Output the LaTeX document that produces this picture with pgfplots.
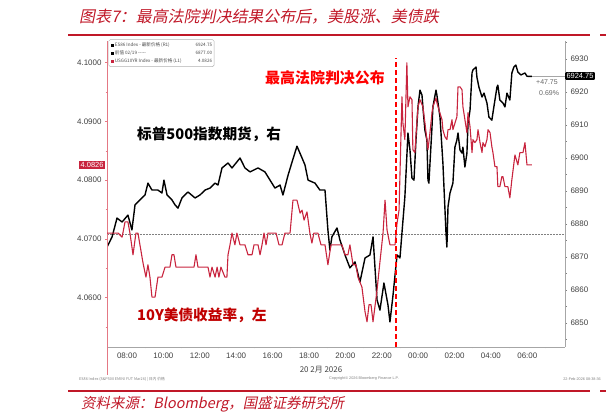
\documentclass[border=0pt]{standalone}
\usepackage{pgfplots}
\pgfplotsset{compat=1.18}
\usepackage{fontspec}
\setmainfont{Liberation Sans}
\newfontfamily\cjk{Noto Sans CJK SC}
\newfontfamily\cjkit{Noto Sans CJK SC}[FakeSlant=0.2]

\definecolor{titlered}{RGB}{192,24,40}
\definecolor{yieldred}{RGB}{200,36,62}
\definecolor{axisred}{RGB}{228,120,132}
\definecolor{labgray}{RGB}{64,64,64}
\definecolor{notered}{RGB}{255,0,0}
\definecolor{darkred}{RGB}{192,0,0}

\begin{document}
\begin{tikzpicture}
\useasboundingbox (0,0) rectangle (606bp,415bp);

% S&P 500 futures, right axis
\begin{axis}[
  at={(107bp,68bp)}, anchor=south west,
  scale only axis, width=458bp, height=306bp,
  xmin=6.9, xmax=32.07,
  ymin=6842.7, ymax=6935.5,
  axis y line*=right, axis x line=none,
  y axis line style={color=gray!70, line width=0.6bp, -},
  ytick={6850,6860,...,6930},
  minor ytick={6845,6855,...,6935},
  tick align=outside,
  major tick length=2bp, minor tick length=1.5bp,
  ytick style={color=gray, line width=0.6bp},
  yticklabel style={font=\fontsize{8}{8}\selectfont, text=labgray,
    /pgf/number format/.cd, fixed, 1000 sep={}},
  /pgf/number format/assume math mode=true,
]
\addplot[gray, line width=0.5bp, densely dotted] coordinates {(6.9,6877) (32.07,6877)};
\addplot[gray!70, line width=0.5bp] coordinates {(30.25,6924.75) (32.07,6924.75)};
\addplot[black, line width=1.4bp, line join=round] coordinates {
(6.90,6873.0)(7.18,6876.1)(7.45,6881.8)(7.73,6880.6)(8.05,6882.7)(8.27,6878.2)
(8.44,6885.8)(8.71,6887.3)(8.99,6888.8)(9.15,6892.4)(9.37,6890.3)(9.70,6890.3)
(9.92,6889.4)(10.03,6893.3)(10.20,6888.8)(10.47,6887.3)(10.64,6885.8)(10.80,6884.8)
(11.02,6887.9)(11.35,6889.7)(11.74,6887.9)(12.01,6888.8)(12.29,6890.3)(12.56,6890.9)
(12.84,6892.4)(13.00,6891.8)(13.22,6897.0)(13.55,6898.5)(13.77,6897.0)(14.21,6900.0)
(14.48,6897.0)(14.76,6895.8)(15.20,6897.0)(15.58,6895.8)(15.86,6893.3)(16.13,6890.9)
(16.41,6891.8)(16.57,6888.8)(16.85,6894.8)(17.07,6898.8)(17.34,6903.6)(17.62,6900.0)
(17.78,6897.9)(17.95,6893.3)(18.33,6892.4)(18.60,6890.3)(18.88,6890.3)(19.04,6878.2)
(19.15,6872.1)(19.26,6876.1)(19.54,6878.8)(19.70,6875.2)(19.98,6870.6)(20.25,6866.7)
(20.53,6868.5)(20.80,6862.4)(21.08,6869.7)(21.35,6870.6)(21.52,6876.1)(21.74,6857.0)
(21.90,6853.9)(22.12,6862.1)(22.34,6855.5)(22.45,6850.3)(22.62,6858.5)(22.84,6870.6)
(23.00,6869.7)(23.11,6877.3)(23.27,6888.2)(23.44,6907.6)(23.55,6902.4)(23.66,6893.9)
(23.77,6893.3)(23.88,6905.5)(23.99,6915.5)(24.10,6920.6)(24.21,6919.1)(24.26,6915.5)
(24.37,6908.5)(24.48,6905.5)(24.54,6893.3)(24.59,6892.4)(24.76,6909.4)(24.81,6915.5)
(24.98,6920.6)(25.03,6919.1)(25.20,6912.4)(25.36,6898.5)(25.53,6877.3)(25.58,6873.0)
(25.64,6885.2)(25.75,6889.4)(25.91,6892.4)(26.02,6903.3)(26.13,6905.5)(26.19,6907.6)
(26.30,6902.4)(26.41,6901.5)(26.46,6903.3)(26.57,6897.3)(26.68,6901.5)(26.74,6910.6)
(26.85,6914.5)(26.96,6925.8)(27.01,6926.7)(27.18,6927.6)(27.23,6924.5)(27.34,6921.5)
(27.51,6918.5)(27.62,6919.7)(27.78,6916.7)(27.89,6912.4)(28.05,6911.5)(28.16,6915.5)
(28.33,6921.5)(28.38,6922.1)(28.49,6917.6)(28.66,6916.7)(28.77,6915.5)(28.88,6919.7)
(29.04,6917.6)(29.15,6925.8)(29.26,6927.6)(29.37,6928.2)(29.48,6926.1)(29.65,6925.2)
(29.87,6925.8)(29.98,6924.8)(30.25,6924.75)
};
\end{axis}

% 10Y treasury yield, left axis
\begin{axis}[
  at={(107bp,68bp)}, anchor=south west,
  scale only axis, width=458bp, height=306bp,
  xmin=6.9, xmax=32.07,
  ymin=4.0516, ymax=4.1037,
  axis y line*=left, axis x line*=bottom,
  y axis line style={color=axisred, line width=0.6bp, -},
  x axis line style={color=gray!70, line width=0.6bp, -},
  xtick={8,10,...,30},
  xticklabels={08:00,10:00,12:00,14:00,16:00,18:00,20:00,22:00,00:00,02:00,04:00,06:00},
  minor xtick={9,11,...,31},
  ytick={4.06,4.07,4.08,4.09,4.10},
  minor ytick={4.055,4.065,4.075,4.085,4.095},
  tick align=outside,
  major tick length=2bp, minor tick length=1.5bp,
  major x tick style={draw=none},
  minor x tick style={color=gray, line width=0.6bp},
  ytick style={color=axisred, line width=0.6bp},
  ticklabel style={font=\fontsize{8}{8}\selectfont, text=labgray},
  yticklabel style={/pgf/number format/.cd, fixed, fixed zerofill, precision=4},
  /pgf/number format/assume math mode=true,
]
\addplot[yieldred, line width=1.1bp, line join=round] coordinates {
(6.90,4.0710)(7.51,4.0710)(7.73,4.0703)(7.89,4.0729)(8.05,4.0729)(8.16,4.0710)
(8.33,4.0673)(8.49,4.0710)(8.60,4.0710)(8.71,4.0690)(8.88,4.0659)(9.04,4.0635)
(9.15,4.0656)(9.26,4.0635)(9.37,4.0601)(9.54,4.0601)(9.70,4.0635)(9.92,4.0635)
(10.09,4.0652)(10.36,4.0652)(10.47,4.0673)(10.58,4.0673)(10.69,4.0652)(11.19,4.0652)
(11.68,4.0652)(11.79,4.0673)(11.90,4.0652)(12.45,4.0652)(12.56,4.0635)(12.67,4.0652)
(12.84,4.0635)(12.95,4.0652)(13.05,4.0635)(13.16,4.0652)(13.38,4.0635)(13.49,4.0635)
(13.55,4.0673)(13.66,4.0690)(13.77,4.0710)(13.93,4.0690)(14.04,4.0710)(14.21,4.0690)
(14.48,4.0690)(14.65,4.0673)(14.87,4.0673)(14.98,4.0690)(15.20,4.0690)(15.31,4.0673)
(15.42,4.0690)(15.53,4.0710)(15.64,4.0690)(15.75,4.0710)(16.19,4.0710)(16.35,4.0690)
(16.52,4.0690)(16.68,4.0710)(16.96,4.0710)(17.12,4.0766)(17.34,4.0766)(17.51,4.0744)
(17.62,4.0749)(17.73,4.0732)(17.89,4.0746)(18.05,4.0710)(18.16,4.0693)(18.27,4.0710)
(18.49,4.0710)(18.66,4.0690)(18.88,4.0690)(19.04,4.0656)(19.21,4.0690)(19.54,4.0690)
(19.81,4.0690)(19.98,4.0673)(20.14,4.0673)(20.25,4.0690)(20.42,4.0656)(20.58,4.0656)
(20.69,4.0635)(20.91,4.0618)(21.08,4.0576)(21.19,4.0559)(21.30,4.0588)(21.41,4.0588)
(21.52,4.0559)(21.74,4.0613)(21.90,4.0661)(22.07,4.0710)(22.18,4.0766)(22.29,4.0715)
(22.45,4.0690)(22.73,4.0690)(22.84,4.0727)(22.95,4.0749)(23.11,4.0942)(23.16,4.0898)
(23.27,4.0869)(23.38,4.1000)(23.44,4.0925)(23.55,4.0942)(23.66,4.0937)(23.71,4.0852)
(23.82,4.0847)(23.93,4.0898)(23.99,4.0925)(24.10,4.0937)(24.26,4.0925)(24.37,4.0898)
(24.48,4.0869)(24.54,4.0852)(24.65,4.0881)(24.76,4.0915)(24.81,4.0925)(24.98,4.0940)
(25.03,4.0932)(25.14,4.0920)(25.31,4.0903)(25.36,4.0886)(25.47,4.0874)(25.58,4.0869)
(25.64,4.0886)(25.75,4.0886)(25.86,4.0903)(25.91,4.0886)(26.13,4.0908)(26.19,4.0959)
(26.30,4.0959)(26.41,4.0954)(26.46,4.0925)(26.57,4.0903)(26.68,4.0881)(26.74,4.0915)
(26.85,4.0891)(26.96,4.0847)(27.01,4.0869)(27.12,4.0864)(27.23,4.0869)(27.29,4.0886)
(27.40,4.0864)(27.51,4.0847)(27.56,4.0864)(27.67,4.0857)(27.78,4.0869)(27.84,4.0886)
(27.95,4.0881)(28.05,4.0857)(28.11,4.0847)(28.22,4.0823)(28.33,4.0823)(28.38,4.0789)
(28.49,4.0789)(28.60,4.0806)(28.66,4.0806)(28.77,4.0789)(28.93,4.0789)(29.04,4.0770)
(29.15,4.0801)(29.32,4.0843)(29.48,4.0826)(29.59,4.0847)(29.76,4.0847)(29.87,4.0864)
(29.98,4.0826)(30.25,4.0826)
};
\addplot[notered, line width=1.8bp, dash pattern=on 5bp off 3bp] coordinates {(22.78,4.0516) (22.78,4.1008)};
\end{axis}

% left axis runs on below the plot, as Bloomberg draws it
\draw[axisred, line width=0.6bp] (107bp,40bp) -- (107bp,68bp);

% title and rules
\node[anchor=west, text=titlered, font=\fontsize{16}{16}\selectfont\cjkit, inner sep=0pt] at (79bp,398bp)
  {图表7：最高法院判决结果公布后，美股涨、美债跌};
\draw[titlered, line width=1.4bp] (68bp,380bp) -- (590bp,380bp);
\draw[titlered, line width=1.4bp] (600bp,380bp) -- (606bp,380bp);
\draw[titlered, line width=1.4bp] (68bp,24bp) -- (590bp,24bp);
\draw[titlered, line width=1.4bp] (600bp,24bp) -- (606bp,24bp);
\node[anchor=west, text=titlered, font=\fontsize{14.5}{14.5}\selectfont\cjkit, inner sep=0pt] at (81bp,11bp)
  {资料来源：Bloomberg，国盛证券研究所};

% legend box
\node[anchor=north west, draw=gray!60, fill=white, rounded corners=1.5bp, inner xsep=2bp, inner ysep=1.5bp,
  font=\fontsize{4.6}{8}\selectfont\cjk, text=gray!60!black] at (108.5bp,375.5bp) {%
  \begin{tabular}{@{}l@{\hspace{14bp}}r@{}}
  \textcolor{black}{\rule{3.2bp}{3.2bp}}\ ES86 Index - 最新价格 (R1) & 6924.75\\
  \textcolor{black}{\rule{3.2bp}{3.2bp}}\ 前值 02/19 ----- & 6877.00\\
  \textcolor{yieldred}{\rule{3.2bp}{3.2bp}}\ USGG10YR Index - 最新价格 (L1) & 4.0826
  \end{tabular}};

% annotations
\node[text=notered, font=\fontsize{15}{15}\selectfont\cjk\bfseries, inner sep=0pt] at (325bp,337bp) {最高法院判决公布};
\node[anchor=west, text=black, font=\fontsize{14.7}{14.7}\selectfont\cjk\bfseries, inner sep=0pt] at (137bp,281bp) {标普500指数期货，右};
\node[anchor=west, text=darkred, font=\fontsize{14.7}{14.7}\selectfont\cjk\bfseries, inner sep=0pt] at (137bp,100bp) {10Y美债收益率，左};

% last-value tags
\node[anchor=east, fill=yieldred, text=white, font=\fontsize{7.5}{7.5}\selectfont, inner sep=1.3bp] at (105bp,250bp) {4.0826};
\node[anchor=west, fill=black, text=white, rounded corners=1bp, font=\fontsize{7.5}{7.5}\selectfont, inner sep=1.3bp] at (565bp,339bp) {6924.75};
\node[anchor=west, text=gray!80!black, font=\fontsize{7}{7}\selectfont, inner sep=0pt] at (536bp,333bp) {+47.75};
\node[anchor=west, text=gray!80!black, font=\fontsize{7}{7}\selectfont, inner sep=0pt] at (539bp,322bp) {0.69\%};

% date under the time axis and footer
\node[text=labgray, font=\fontsize{8}{8}\selectfont\cjk, inner sep=0pt] at (321bp,45bp) {20 2月 2026};
\node[anchor=west, text=gray, font=\fontsize{3.8}{3.8}\selectfont\cjk, inner sep=0pt] at (79bp,36bp) {ES86 Index (S\&P500 EMINI FUT Mar26) | 日内 价格};
\node[text=gray, font=\fontsize{3.8}{3.8}\selectfont, inner sep=0pt] at (364bp,36bp) {Copyright\textcopyright\ 2026 Bloomberg Finance L.P.};
\node[anchor=east, text=gray, font=\fontsize{3.8}{3.8}\selectfont, inner sep=0pt] at (601bp,36bp) {22-Feb-2026 08:38:36};
\end{tikzpicture}
\end{document}
